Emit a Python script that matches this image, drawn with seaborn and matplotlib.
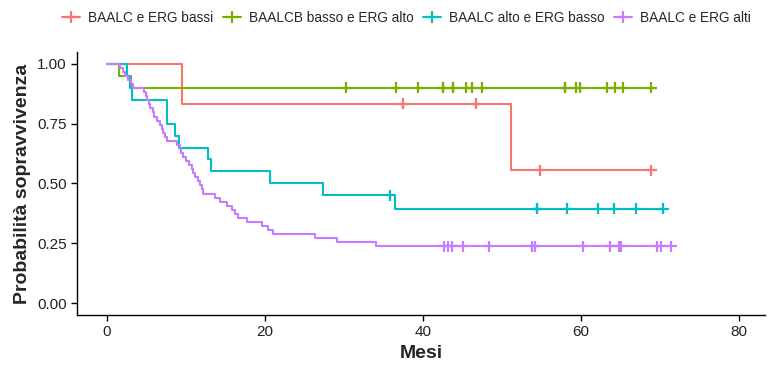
import numpy as np
import pandas as pd
import matplotlib
matplotlib.use("Agg")
import matplotlib.pyplot as plt
from matplotlib.lines import Line2D
import seaborn as sns

# gruppi e colori (palette ggplot di default)
groups = ["BAALC e ERG bassi", "BAALCB basso e ERG alto",
          "BAALC alto e ERG basso", "BAALC e ERG alti"]
colors = ["#F8766D", "#7CAE00", "#00BFC4", "#C77CFF"]

# tempi (mesi): eventi e censure per gruppo
ev_bassi = [9.5, 51.1]
cens_bassi = [37.5, 46.7, 54.8, 68.9]

ev_b_basso = [1.5, 3.0]
cens_b_basso = [30.2, 36.6, 39.4, 42.5, 42.5, 43.8, 43.8, 45.4, 46.2, 47.4,
                58.0, 58.0, 59.4, 59.9, 63.3, 64.3, 65.3, 68.9]

ev_alto_basso = [2.5, 2.9, 3.1, 7.6, 7.6, 8.6, 9.1, 12.8, 13.1, 20.6, 27.3, 36.5]
cens_alto_basso = [35.8, 54.4, 54.4, 58.2, 62.1, 64.1, 66.9, 70.4]

ev_alti = [1.7, 2.0, 2.3, 2.6, 3.0, 3.3, 4.7, 4.9, 5.1, 5.3, 5.5, 5.8,
           6.0, 6.3, 6.7, 6.9, 7.1, 7.3, 7.6, 8.9, 9.2, 9.4, 9.6, 10.0,
           10.4, 10.7, 10.9, 11.1, 11.5, 11.8, 12.0, 12.1, 13.7, 14.3, 15.2,
           15.8, 16.2, 16.6, 17.7, 19.6, 20.4, 21.0, 26.3, 29.1, 34.1]
cens_alti = [42.6, 43.2, 43.7, 45.1, 48.3, 53.8, 54.2, 60.2, 63.6, 64.8,
             65.0, 69.6, 70.1, 71.4]

events = [ev_bassi, ev_b_basso, ev_alto_basso, ev_alti]
censored = [cens_bassi, cens_b_basso, cens_alto_basso, cens_alti]


def kaplan_meier(ev, cens):
    ev = np.array(ev)
    cens = np.array(cens)
    n = len(ev) + len(cens)
    t = [0.0]
    s = [1.0]
    surv = 1.0
    for ti in np.unique(ev):
        at_risk = n - np.sum(ev < ti) - np.sum(cens < ti)
        surv *= 1 - np.sum(ev == ti) / at_risk
        t.append(ti)
        s.append(surv)
    t_end = max(ev.max(), cens.max())
    t.append(t_end)
    s.append(surv)
    return np.array(t), np.array(s)


curves = []
marks = []
for g, ev, cens in zip(groups, events, censored):
    t, s = kaplan_meier(ev, cens)
    curves.append(pd.DataFrame({"Mesi": t, "surv": s, "gruppo": g}))
    idx = np.searchsorted(t, cens, side="right") - 1
    marks.append(pd.DataFrame({"Mesi": cens, "surv": s[idx], "gruppo": g}))
curves = pd.concat(curves, ignore_index=True)
marks = pd.concat(marks, ignore_index=True)

sns.set_style("white")
plt.rcParams["font.family"] = ["Liberation Sans", "DejaVu Sans"]

fig = plt.figure(figsize=(7.73, 3.65), dpi=100)
ax = fig.add_axes([0.0996, 0.137, 0.8904, 0.721])

pal = dict(zip(groups, colors))
sns.lineplot(data=curves, x="Mesi", y="surv", hue="gruppo", palette=pal,
             drawstyle="steps-post", estimator=None, sort=False,
             linewidth=1.5, legend=False, ax=ax)
sns.scatterplot(data=marks, x="Mesi", y="surv", hue="gruppo", palette=pal,
                marker="+", s=60, linewidth=1.6, legend=False, ax=ax)

ax.set_xlim(-3.8, 83.3)
ax.set_ylim(-0.05, 1.05)
ax.set_xticks([0, 20, 40, 60, 80])
ax.set_yticks([0, 0.25, 0.5, 0.75, 1.0])
ax.set_yticklabels(["0.00", "0.25", "0.50", "0.75", "1.00"])
ax.tick_params(axis="both", labelsize=11, length=4, width=1, color="black",
               labelcolor="#222222", direction="out", bottom=True, left=True)
ax.set_xlabel("Mesi", fontsize=14, fontweight="bold")
ax.set_ylabel("Probabilità sopravvivenza", fontsize=14, fontweight="bold")
for side in ["top", "right"]:
    ax.spines[side].set_visible(False)
for side in ["left", "bottom"]:
    ax.spines[side].set_color("black")
    ax.spines[side].set_linewidth(1)

handles = [Line2D([], [], color=c, marker="+", markersize=9,
                  markeredgewidth=1.6, linewidth=1.5) for c in colors]
fig.legend(handles, groups, loc="center left", bbox_to_anchor=(0.065, 0.952),
           ncol=4, frameon=False, fontsize=9.8, handlelength=1.3,
           handletextpad=0.6, columnspacing=0.7)

fig.savefig("out.png", dpi=100)
